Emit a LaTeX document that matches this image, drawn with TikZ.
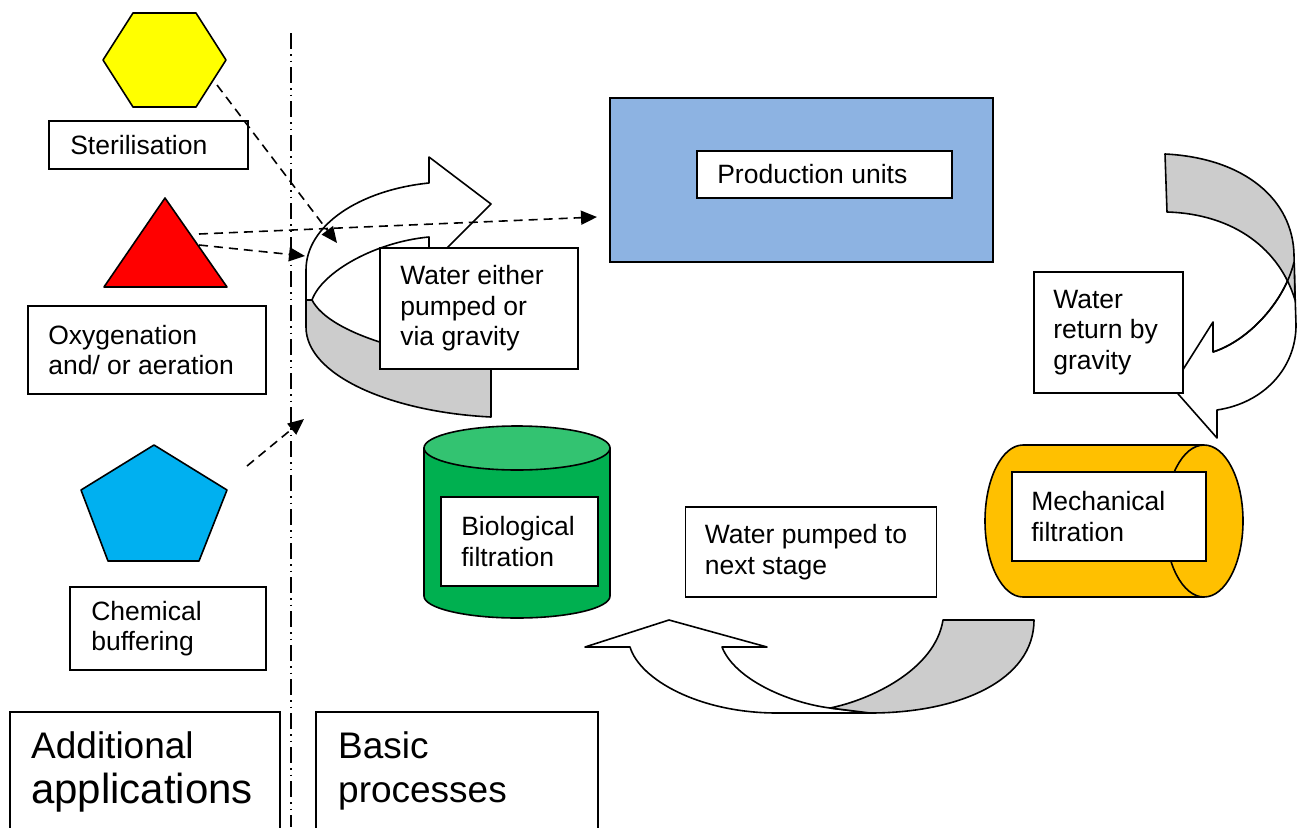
\documentclass[tikz,border=0pt]{standalone}
\usepackage{fontspec}
\setmainfont{Liberation Sans}
\usetikzlibrary{arrows.meta}
\definecolor{hexyellow}{HTML}{FFFF00}
\definecolor{trired}{HTML}{FF0000}
\definecolor{pentblue}{HTML}{00B0F0}
\definecolor{prodblue}{HTML}{8DB3E2}
\definecolor{biogreen}{HTML}{00B050}
\definecolor{biotop}{HTML}{33C371}
\definecolor{mechorange}{HTML}{FFC000}
\definecolor{bandgray}{HTML}{CCCCCC}
\begin{document}
\begin{tikzpicture}[x=1pt,y=-1pt,
  bx/.style={draw, line width=1.8pt, fill=white, inner sep=0pt},
  txt/.style={inner sep=0pt, align=left, font=\fontsize{26.5}{30.5}\selectfont},
  bigtxt/.style={inner sep=0pt, font=\fontsize{37}{44}\selectfont},
  outl/.style={line width=1.6pt, line join=round},
  dsh/.style={line width=1.6pt, dash pattern=on 9pt off 6pt, -{Triangle[length=16pt,width=14pt]}},
  divider/.style={line width=1.4pt, dash pattern=on 16pt off 5pt on 1.5pt off 5pt on 1.5pt off 5pt}]
\useasboundingbox (0,0) rectangle (1300,827);
\clip (0,0) rectangle (1300,827);

% divider
\coordinate (divtop) at (291,33);
\coordinate (divbot) at (291,827);
\draw[divider] (divtop) -- (divbot);

% shapes on the left
\filldraw[outl, fill=hexyellow] (133,13) -- (196,13) -- (226,60) -- (196,107) -- (133,107) -- (103,60) -- cycle;
\filldraw[outl, fill=trired] (165,198) -- (227,287) -- (104,287) -- cycle;
\filldraw[outl, fill=pentblue] (154,445) -- (227,490) -- (199,561) -- (108,561) -- (81,490) -- cycle;

% left curved arrow (water either pumped or via gravity)
\filldraw[outl, fill=bandgray] (312,300) .. controls (330,335) and (420,358) .. (491,362) -- (491,417)
  .. controls (390,412) and (306,375) .. (306,327) -- (306,300) -- cycle;
\filldraw[outl, fill=white] (429,183) .. controls (360,190) and (306,225) .. (306,270) -- (306,300) -- (312,300)
  .. controls (322,272) and (375,242) .. (429,237) -- (429,266) -- (491,204) -- (429,157) -- cycle;

% right curved arrow (water return by gravity)
\filldraw[outl, fill=white] (1294,262) -- (1296,325) .. controls (1296,368) and (1264,403) .. (1217,410)
  -- (1217,438) -- (1172,387) -- (1213,322) -- (1213,352) .. controls (1250,340) and (1285,300) .. (1294,262) -- cycle;
\filldraw[outl, fill=bandgray] (1165,154) .. controls (1245,158) and (1293,200) .. (1294,255) -- (1295,300)
  .. controls (1280,250) and (1235,214) .. (1167,212) -- cycle;
\draw[outl] (1213,352) .. controls (1250,340) and (1285,300) .. (1294,262);

% bottom curved arrow (water pumped to next stage)
\filldraw[outl, fill=white] (870,713) -- (777,713) .. controls (700,713) and (640,680) .. (630,647)
  -- (585,647) -- (669,620) -- (767,647) -- (722,647) .. controls (735,680) and (790,703) .. (830,708) -- cycle;
\filldraw[outl, fill=bandgray] (830,708) .. controls (870,700) and (935,670) .. (943,620) -- (1034,620)
  .. controls (1034,680) and (960,713) .. (870,713) -- cycle;

% production units
\node[bx, fill=prodblue, minimum width=383pt, minimum height=164pt] (prod) at (801.5,180) {};
\node[bx, minimum width=255pt, minimum height=47pt] (prodin) at (824.5,174.5) {};
\node[txt, anchor=west] (prodT) at ([xshift=21pt]prodin.west) {Production units};

% biological filtration cylinder
\filldraw[outl, fill=biogreen] (424,448) -- (424,596) .. controls (424,608.2) and (465.6,618) .. (517,618)
  .. controls (568.4,618) and (610,608.2) .. (610,596) -- (610,448) -- cycle;
\filldraw[outl, fill=biotop] (517,448) ellipse [x radius=93, y radius=22];
\node[bx, minimum width=157pt, minimum height=89pt] (bioin) at (519.5,541.5) {};
\node[txt, anchor=west] (bioT) at ([xshift=21pt]bioin.west) {Biological\\filtration};

% mechanical filtration cylinder
\fill[mechorange] (1204,445) -- (1023,445) .. controls (1002,445) and (985,479) .. (985,521)
  .. controls (985,563) and (1002,597) .. (1023,597) -- (1204,597) -- cycle;
\draw[outl] (1204,445) -- (1023,445) .. controls (1002,445) and (985,479) .. (985,521)
  .. controls (985,563) and (1002,597) .. (1023,597) -- (1204,597);
\filldraw[outl, fill=mechorange] (1204,521) ellipse [x radius=39, y radius=76];
\node[bx, minimum width=194pt, minimum height=89pt] (mechin) at (1109,516.5) {};
\node[txt, anchor=west] (mechT) at ([xshift=20pt]mechin.west) {Mechanical\\filtration};

% text boxes
\node[bx, minimum width=199pt, minimum height=48pt] (steril) at (148.5,145) {};
\node[txt, anchor=west] (sterilT) at ([xshift=22pt]steril.west) {Sterilisation};
\node[bx, minimum width=238pt, minimum height=88pt] (oxy) at (147,350) {};
\node[txt, anchor=west] (oxyT) at ([xshift=21pt]oxy.west) {Oxygenation\\and/ or aeration};
\node[bx, minimum width=196pt, minimum height=83pt] (chem) at (168,628.5) {};
\node[txt, anchor=west] (chemT) at ([xshift=22pt]chem.west) {Chemical\\buffering};
\node[bx, minimum width=198pt, minimum height=121pt] (either) at (479,308.5) {};
\node[txt, anchor=west] (eitherT) at ([xshift=21pt]either.west) {Water either\\pumped or\\via gravity};
\node[bx, minimum width=149pt, minimum height=121pt] (ret) at (1108.5,332.5) {};
\node[txt, anchor=west] (retT) at ([xshift=20pt]ret.west) {Water\\return by\\gravity};
\node[bx, minimum width=251pt, minimum height=90pt] (pumped) at (811,552) {};
\node[txt, anchor=west] (pumpedT) at ([xshift=20pt]pumped.west) {Water pumped to\\next stage};

% bottom title boxes
\node[bx, minimum width=270pt, minimum height=128pt] (addl) at (145,776) {};
\node[bigtxt, anchor=base west] (addlA) at (31,758) {Additional};
\node[bigtxt, anchor=base west, font=\fontsize{42}{46}\selectfont] (addlB) at (31,803) {applications};
\node[bx, minimum width=282pt, minimum height=128pt] (basic) at (457,776) {};
\node[bigtxt, anchor=base west] (basicA) at (338,758) {Basic};
\node[bigtxt, anchor=base west] (basicB) at (338,802) {processes};

% dashed connectors
\coordinate (hexout) at (217,85);
\coordinate (hexend) at (337,243);
\coordinate (triout1) at (199,234);
\coordinate (triend1) at (597,217);
\coordinate (triout2) at (199,245);
\coordinate (triend2) at (305,256);
\coordinate (pentout) at (247,466);
\coordinate (pentend) at (304,419);
\draw[dsh] (hexout) -- (hexend);
\draw[dsh] (triout1) -- (triend1);
\draw[dsh] (triout2) -- (triend2);
\draw[dsh] (pentout) -- (pentend);
\end{tikzpicture}
\end{document}
